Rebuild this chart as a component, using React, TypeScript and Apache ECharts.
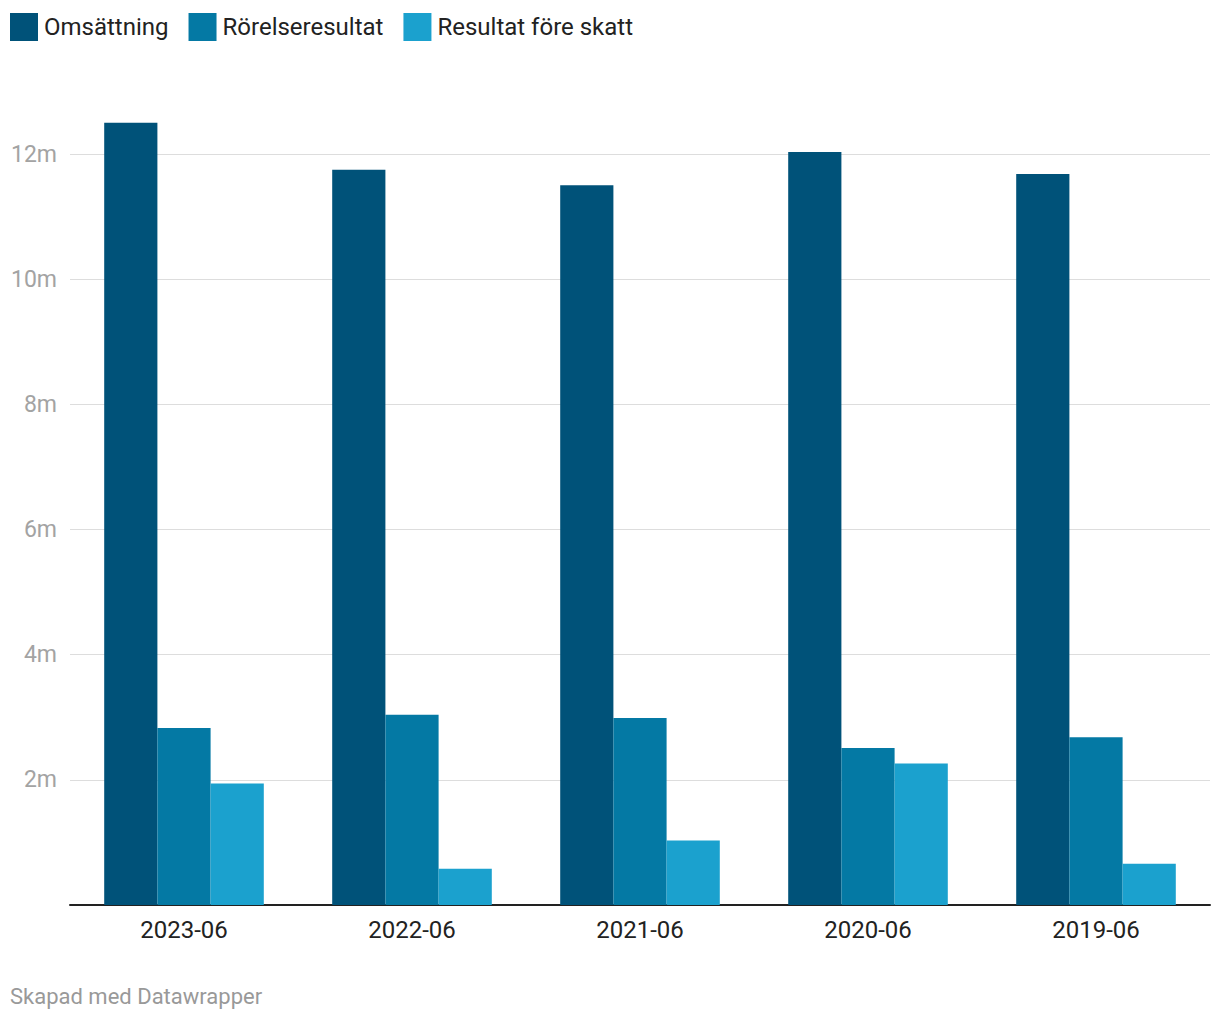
import React, { useEffect, useRef } from "react";
import * as echarts from "echarts";

const categories = ["2023-06", "2022-06", "2021-06", "2020-06", "2019-06"];
const seriesNames = ["Omsättning", "Rörelseresultat", "Resultat före skatt"];
const omsattning = [12.5, 11.75, 11.5, 12.03, 11.68];
const rorelseresultat = [2.83, 3.04, 2.99, 2.51, 2.68];
const resultatForeSkatt = [1.94, 0.58, 1.03, 2.26, 0.66];
const colors = ["#005279", "#0479a4", "#1ba1ce"];
const yTicks = [0, 2, 4, 6, 8, 10, 12];

export default function App() {
  const ref = useRef<HTMLDivElement>(null);
  useEffect(() => {
    if (!ref.current) return;
    const chart = echarts.init(ref.current, null, { renderer: "svg" });
    const values = [omsattning, rorelseresultat, resultatForeSkatt];
    chart.setOption({
      animation: false,
      textStyle: { fontFamily: "Roboto" },
      legend: {
        left: 10,
        top: 13,
        padding: 0,
        itemWidth: 28,
        itemHeight: 28,
        itemGap: 20,
        icon: "rect",
        textStyle: { fontSize: 24, color: "#222", fontFamily: "Roboto", padding: [0, 0, 0, 1] },
        data: seriesNames,
      },
      grid: { left: 70, right: 10, top: 154, bottom: 115, containLabel: false },
      xAxis: {
        type: "category",
        data: categories,
        axisLine: { lineStyle: { color: "#222", width: 2 } },
        axisTick: { show: false },
        axisLabel: { fontSize: 24, color: "#222", margin: 13, fontFamily: "Roboto" },
      },
      yAxis: {
        type: "value",
        min: yTicks[0],
        max: yTicks[yTicks.length - 1],
        interval: 2,
        axisLine: { show: false },
        axisTick: { show: false },
        splitLine: { lineStyle: { color: "#dddddd", width: 1 } },
        axisLabel: {
          fontSize: 23,
          color: "#a3a3a3",
          margin: 13,
          fontFamily: "Roboto",
          formatter: (v: number) => (v === 0 ? "" : v + "m"),
        },
      },
      series: seriesNames.map((name, i) => ({
        name,
        type: "bar",
        data: values[i],
        barGap: "0%",
        barCategoryGap: "30%",
        clip: false,
        itemStyle: { color: colors[i] },
      })),
      graphic: [
        {
          type: "text",
          left: 10,
          top: 985,
          style: { text: "Skapad med Datawrapper", fontSize: 22, fill: "#999", fontFamily: "Roboto" },
        },
      ],
    });
    return () => chart.dispose();
  }, []);
  return <div ref={ref} style={{ width: 1220, height: 1020, position: "absolute", left: 0, top: 0 }} />;
}
